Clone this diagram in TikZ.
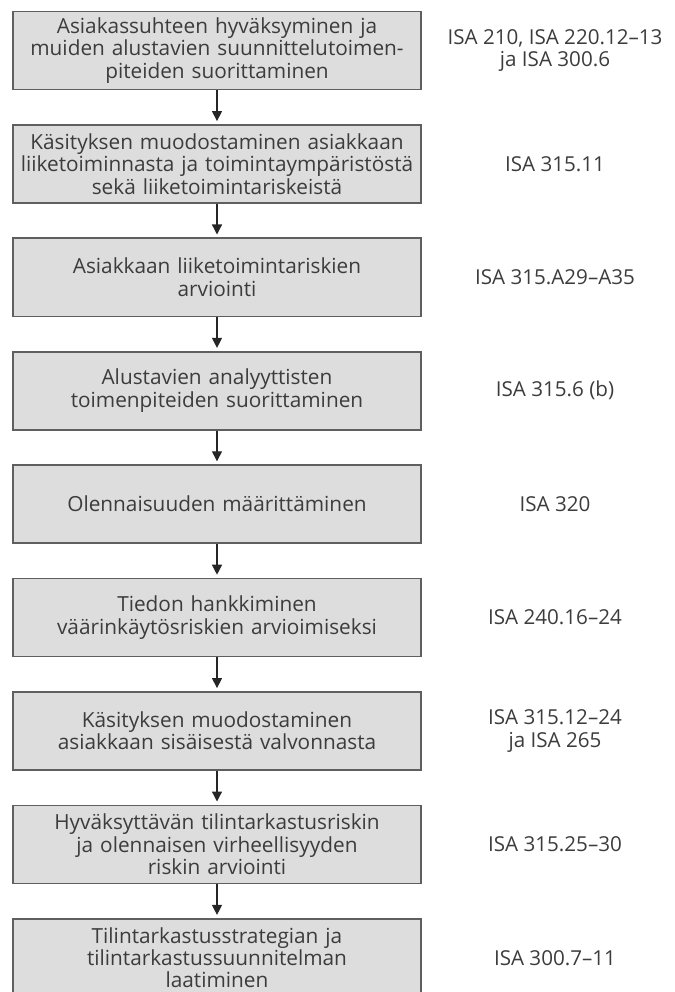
\documentclass[tikz,border=0pt]{standalone}
\usepackage{fontspec}
\setmainfont{Open Sans}
\usetikzlibrary{positioning, arrows.meta}
\definecolor{boxfill}{RGB}{221,221,221}
\definecolor{boxline}{RGB}{95,95,95}
\definecolor{txt}{RGB}{60,60,60}
\tikzset{
  phase/.style={
    rectangle, draw=boxline, line width=1.6pt, fill=boxfill,
    minimum width=408pt, minimum height=78pt, text width=404pt,
    inner sep=0pt, align=center, text=txt,
    font=\fontsize{20.8}{22.4}\selectfont
  },
  isaref/.style={align=center, text=txt, font=\fontsize{20.6}{22.4}\selectfont},
  flow/.style={-{Triangle[length=10pt,width=10pt]}, line width=1.3pt,
    draw=black!85, shorten >=3pt},
}

\begin{document}
\begin{tikzpicture}[node distance=33.8pt]
  \useasboundingbox (0,0) rectangle (674pt,-992pt);
  \coordinate (refcol) at (555pt,0);

  % vaiheet
  \node[phase] (P1) at (217pt,-50.5pt) {Asiakassuhteen hyväksyminen ja\\muiden alustavien suunnittelutoimen-\\piteiden suorittaminen};
  \node[phase, below=of P1] (P2) {Käsityksen muodostaminen asiakkaan\\liiketoiminnasta ja toimintaympäristöstä\\sekä liiketoimintariskeistä};
  \node[phase, below=of P2] (P3) {Asiakkaan liiketoimintariskien\\arviointi};
  \node[phase, below=of P3] (P4) {Alustavien analyyttisten\\toimenpiteiden suorittaminen};
  \node[phase, below=of P4] (P5) {Olennaisuuden määrittäminen};
  \node[phase, below=of P5] (P6) {Tiedon hankkiminen\\väärinkäytösriskien arvioimiseksi};
  \node[phase, below=of P6] (P7) {Käsityksen muodostaminen\\asiakkaan sisäisestä valvonnasta};
  \node[phase, below=of P7] (P8) {Hyväksyttävän tilintarkastusriskin\\ja olennaisen virheellisyyden\\riskin arviointi};
  \node[phase, below=of P8] (P9) {Tilintarkastusstrategian ja\\tilintarkastussuunnitelman\\laatiminen};

  % standardit
  \node[isaref] (R1) at (refcol |- P1) {ISA 210, ISA 220.12–13\\ja ISA 300.6};
  \node[isaref] (R2) at (refcol |- P2) {ISA 315.11};
  \node[isaref] (R3) at (refcol |- P3) {ISA 315.A29–A35};
  \node[isaref] (R4) at (refcol |- P4) {ISA 315.6 (b)};
  \node[isaref] (R5) at (refcol |- P5) {ISA 320};
  \node[isaref] (R6) at (refcol |- P6) {ISA 240.16–24};
  \node[isaref] (R7) at (refcol |- P7) {ISA 315.12–24\\ja ISA 265};
  \node[isaref] (R8) at (refcol |- P8) {ISA 315.25–30};
  \node[isaref] (R9) at (refcol |- P9) {ISA 300.7–11};

  \draw[flow] (P1) -- (P2);
  \draw[flow] (P2) -- (P3);
  \draw[flow] (P3) -- (P4);
  \draw[flow] (P4) -- (P5);
  \draw[flow] (P5) -- (P6);
  \draw[flow] (P6) -- (P7);
  \draw[flow] (P7) -- (P8);
  \draw[flow] (P8) -- (P9);
\end{tikzpicture}
\end{document}
